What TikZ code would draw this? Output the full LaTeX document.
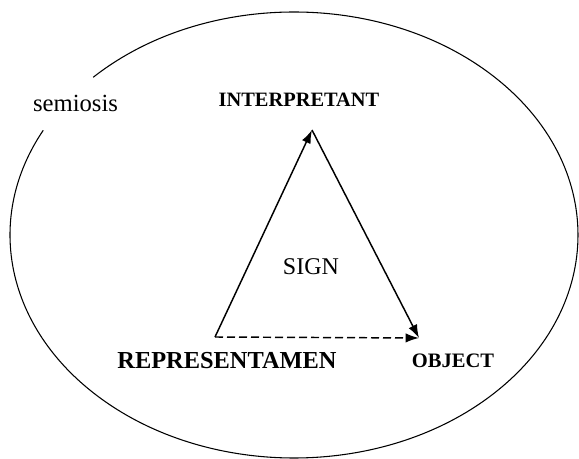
\documentclass[tikz,border=0pt]{standalone}
\usepackage{fontspec}
\setmainfont{Liberation Serif}
\usetikzlibrary{arrows.meta}
\tikzset{
  lbl/.style={anchor=base, inner sep=0pt},
  edge/.style={line width=1.1pt, -{Latex[length=10pt,width=7pt]}},
}

\begin{document}
\begin{tikzpicture}[x=0.75pt,y=-0.75pt]
\useasboundingbox (0,0) rectangle (579,459);
% semiosis ring, open where the label sits
\draw[line width=0.8pt] (294,235) ++(225:284 and 223) arc[start angle=225, end angle=568, x radius=284, y radius=223];
\node[lbl] (semiosis) at (75.5,112) {\fontsize{18.5}{20}\selectfont semiosis};
\node[lbl] (interp) at (299,107) {\fontsize{15.3}{17}\selectfont\bfseries INTERPRETANT};
\node[lbl] (sign) at (311,275) {\fontsize{18}{20}\selectfont SIGN};
\node[lbl] (repr) at (227,369) {\fontsize{18.3}{20}\selectfont\bfseries REPRESENTAMEN};
\node[lbl] (object) at (453,368) {\fontsize{15.4}{17}\selectfont\bfseries OBJECT};
% the sign triangle
\coordinate (top) at (312,130);
\coordinate (left) at (215,337);
\coordinate (right) at (419,338);
\draw[edge] (left) -- (top);
\draw[edge] (top) -- (right);
\draw[edge, dash pattern=on 6pt off 3pt] (left) -- (right);
\end{tikzpicture}
\end{document}
